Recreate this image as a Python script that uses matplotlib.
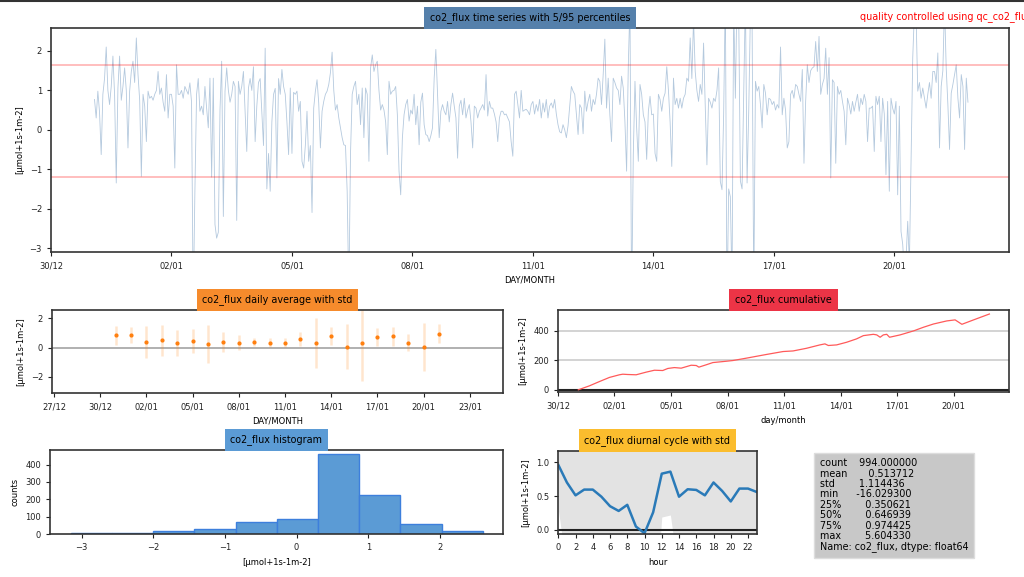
import numpy as np
import pandas as pd
import matplotlib
matplotlib.use("Agg")
import matplotlib.pyplot as plt
from matplotlib.lines import Line2D

UNIT = "[µmol+1s-1m-2]"

# hourly co2 flux, one row per day
# first value is 31/12 02:00, last one 21/01 20:00
flux_start = "2019-12-31 02:00"
flux = [
    0.77, 0.3, 0.98, 0.45, -0.63, 0.9, 1.3, 2.1, 1.0, 0.64, 1.1, 1.87, 0.9, -1.35, 1.06, 1.87, 0.75, 1.1, 1.57, 1.0, -0.46, 0.98,
    1.48, 1.74, 1.2, 2.33, 1.4, 0.75, -1.18, 0.9, 0.6, -0.3, 0.98, 0.8, 0.85, 0.75, 0.9, 1.0, 1.48, 0.9, 1.06, 0.7, 0.47, 1.4, 0.3, 0.9,
    0.9, 0.6, -0.97, 1.65, 0.9, 0.9, 1.0, 0.8, 1.1, 1.0, 0.9, 1.19, 0.7, -4.5, -1.56, 0.9, 1.3, 0.47, 0.6, 0.38, 1.1, 0.55, 0.05, 1.31,
    -1.2, 1.31, -2.4, -2.75, -2.6, 0.5, 1.74, -2.2, 0.98, 1.57, 1.0, 0.7, 0.9, 1.23, 1.1, -2.3, 1.23, 0.9, 1.1, 1.48, 0.47, -0.55, 1.06, 1.3,
    1.0, 1.6, -0.3, 0.6, 1.2, 1.3, 0.47, -0.4, 2.07, -1.5, -0.6, -1.56, 0.2, 0.9, 1.05, -1.22, 1.3, 0.9, 1.53, 1.1, 0.9, 0.2, -0.63, 1.06,
    -0.6, 0.95, 0.9, 0.98, 0.47, 0.72, -0.8, -0.97, -0.4, 0.47, -0.8, -0.4, -2.1, 0.55, 0.98, 1.27, 0.68, -0.46, 0.47, 0.72, 0.9, 0.98, 1.15, 1.45,
    1.97, 1.0, 0.5, 0.64, 0.3, 0.05, -0.2, -0.38, -0.4, -1.56, -4.2, -0.6, 0.9, 1.1, 1.23, 0.64, 0.9, 0.13, 1.06, -0.2, 1.06, 0.9, -0.8, 1.57,
    1.9, 1.48, 1.65, 1.74, 1.0, 0.5, 0.64, 0.5, 0.2, -0.63, 1.23, 0.9, 0.98, 1.0, 1.1, 0.38, -1.05, -1.65, -0.2, 0.38, 0.64, 0.77, 0.22, 0.5,
    0.4, 0.9, 0.13, 0.6, -0.38, 0.7, 0.93, 0.13, -0.12, -0.15, -0.3, -0.15, 0.05, 1.31, 2.04, 0.9, -0.2, 0.47, 0.64, 0.47, 0.38, 0.72, 0.2, 0.64,
    0.93, 0.6, 0.3, -0.72, 0.6, 0.75, 0.38, 0.8, 0.3, 0.5, 0.64, 0.2, -0.46, 0.6, 0.55, 0.3, 0.47, 0.55, 0.64, 0.5, 1.4, 0.35, 0.72, 0.55,
    0.55, 0.4, 0.2, -0.3, 0.3, 0.47, 0.47, 0.38, 0.4, 0.3, 0.2, -0.3, -0.67, 0.9, 0.98, 0.64, 0.3, 1.0, 0.47, 0.5, 0.52, 0.47, 0.38, 0.64,
    0.72, 0.4, 0.64, 0.47, 0.77, 0.3, 0.68, 0.45, 0.77, 0.3, 0.6, 0.68, 0.55, 0.77, 0.4, 0.13, -0.05, -0.08, 0.13, 0.0, -0.2, 0.1, 0.6, 1.1,
    0.98, 0.9, 0.38, -0.12, 0.64, 0.55, -0.1, 0.98, 0.47, 0.72, 0.9, 0.47, 0.77, 0.64, 0.9, 1.31, 1.23, 0.64, 1.4, 2.3, 0.55, 1.31, 0.38, -0.3,
    1.31, 1.2, 1.06, 1.0, 0.64, 1.36, 1.06, 0.2, -1.05, 1.6, 3.2, -4.5, -0.63, 1.23, 0.05, -0.8, 1.15, 0.9, 0.38, 0.2, -0.75, 0.47, 0.85, 0.38,
    0.4, -0.6, -0.8, 0.9, 0.77, 0.47, 0.8, 0.93, 1.6, 1.0, 0.2, -0.93, 1.31, 0.64, 0.8, 0.55, 0.8, 0.55, 0.8, 0.9, 1.31, 1.23, 2.33, 1.3,
    2.8, 1.48, 1.0, 0.72, 1.15, 0.9, 2.2, 0.6, -0.89, 0.8, 0.7, 0.55, 0.8, 0.72, 1.0, 1.57, -1.31, -1.52, 0.4, 3.5, -4.5, -1.5, -1.7, -4.0,
    3.2, 0.8, 3.5, 2.9, -1.3, -1.5, 0.9, 3.4, -1.35, 0.5, 3.0, 2.7, -4.2, 1.23, 0.98, 1.1, 0.64, 0.05, 1.15, 0.93, 0.38, 0.8, 0.77, 0.64,
    0.72, 0.5, 0.64, 0.55, 2.1, 0.38, 0.8, 0.5, -0.46, -0.3, 0.9, 1.0, 0.8, 1.15, 1.1, 0.9, 0.72, 1.53, -0.85, 0.72, 1.65, 1.2, 1.5, 1.57,
    1.6, 2.24, 1.48, 2.37, 0.9, 1.15, 1.3, 2.07, 0.9, 1.83, -1.22, 1.27, 1.2, -0.85, 1.1, 0.9, 1.0, 0.72, 0.47, -0.38, 0.8, 0.64, 0.4, 0.72,
    0.47, 0.7, 0.9, 0.47, 0.8, 0.64, 0.9, 0.72, -0.3, 0.55, 0.55, 0.6, -0.55, 0.85, 0.64, 0.85, -0.3, 0.8, 0.4, -1.14, 0.72, -1.56, 0.8, 0.55,
    0.4, 0.72, -1.65, 0.6, -2.58, -2.9, -3.6, -3.3, -2.32, -3.4, -0.8, 1.82, 3.0, 2.9, 0.98, 1.2, 0.8, 1.06, 0.8, 0.55, 0.9, 1.2, 0.8, 1.48,
    1.48, 1.2, 1.95, -0.46, 1.1, 1.5, 3.2, 1.57, 0.64, -0.5, 0.93, 1.15, 1.4, 1.65, 0.8, 0.3, 1.4, 1.1, -0.5, 1.31, 0.7,
]
p05 = -1.2
p95 = 1.65

# daily averages and standard deviations
daily_start = "2019-12-31"
daily_mean = [0.85, 0.85, 0.4, 0.5, 0.3, 0.45, 0.25, 0.4, 0.35, 0.4, 0.35,
              0.35, 0.6, 0.3, 0.8, 0.07, 0.35, 0.75, 0.8, 0.35, 0.07, 0.97]
daily_std = [0.65, 0.55, 1.1, 1.08, 0.88, 0.82, 1.3, 0.68, 0.5, 0.28, 0.3,
             0.3, 0.45, 1.72, 0.6, 1.55, 2.6, 0.63, 0.65, 0.6, 1.65, 0.65]

# cumulative flux, days since 30/12
cum_days = [1.08, 1.67, 2.2, 2.73, 3.26, 3.44, 3.7, 4.15, 4.68, 5.12, 5.56, 5.83,
            6.18, 6.54, 7.07, 7.34, 7.48, 7.87, 8.22, 8.93, 9.29, 10.0, 11.06,
            11.95, 12.48, 13.19, 13.9, 14.17, 14.35, 14.79, 15.32, 15.85, 16.21,
            16.74, 16.92, 17.1, 17.27, 17.45, 17.6, 18.16, 18.87, 19.4, 19.93,
            20.64, 21.08, 21.44, 22.06, 22.9]
cum_vals = [0, 27, 56, 84, 102, 106, 104, 102, 120, 133, 131, 145,
            151, 147, 167, 165, 154, 170, 185, 194, 199, 215, 240,
            260, 264, 282, 305, 312, 301, 305, 323, 346, 368,
            377, 373, 357, 373, 377, 357, 373, 400, 425, 447,
            468, 475, 445, 475, 515]

# histogram
hist_edges = [-3.15, -2.575, -2.0, -1.425, -0.85, -0.275, 0.3, 0.875, 1.45, 2.025, 2.6]
hist_counts = [8, 8, 21, 31, 71, 88, 460, 225, 58, 21]

# diurnal cycle
hours = list(range(24))
diurnal_mean = [0.96, 0.70, 0.51, 0.595, 0.595, 0.49, 0.35, 0.28, 0.37, 0.05, -0.05, 0.26,
                0.83, 0.86, 0.49, 0.60, 0.59, 0.51, 0.70, 0.575, 0.42, 0.61, 0.61, 0.56]
diurnal_std = [0.66, 1.3, 1.1, 1.2, 1.0, 1.1, 1.3, 1.5, 1.2, 2.1, 2.4, 1.9,
               0.64, 0.64, 1.2, 1.0, 0.61, 1.1, 1.3, 1.2, 1.5, 1.1, 1.0, 1.2]

stat_names = ["count", "mean", "std", "min", "25%", "50%", "75%", "max"]
stat_vals = [994.0, 0.513712, 1.114436, -16.0293, 0.350621, 0.646939, 0.974425, 5.60433]


def style_axes(ax):
    for sp in ax.spines.values():
        sp.set_linewidth(1.2)
        sp.set_color("#333333")
    ax.tick_params(labelsize=6, length=3, width=0.8, colors="#222222")


def box_title(ax, text, color):
    ax.set_title(text, fontsize=6.9, pad=5.5,
                 bbox=dict(facecolor=color, edgecolor="none", boxstyle="square,pad=0.6"))


fig = plt.figure(figsize=(10.24, 5.77), dpi=100)

# time series
t = pd.date_range(flux_start, periods=len(flux), freq="h")
ax1 = fig.add_axes([0.0498, 0.5633, 0.9355, 0.388])
ax1.plot(t, flux, color="#4d7fb0", alpha=0.42, lw=0.6)
ax1.axhline(p95, color="red", alpha=0.3, lw=1.2)
ax1.axhline(p05, color="red", alpha=0.3, lw=1.2)
ax1.set_ylim(-3.1, 2.58)
ax1.set_xlim(pd.Timestamp("2019-12-30 00:00"), pd.Timestamp("2020-01-22 20:30"))
ticks1 = pd.date_range("2019-12-30", periods=8, freq="3D")
ax1.set_xticks(ticks1)
ax1.set_xticklabels(ticks1.strftime("%d/%m"))
ax1.set_yticks([-3, -2, -1, 0, 1, 2])
ax1.set_xlabel("DAY/MONTH", fontsize=6)
ax1.set_ylabel(UNIT, fontsize=6)
style_axes(ax1)
box_title(ax1, "co2_flux time series with 5/95 percentiles", "#5580ab")
# the reference screenshot cuts this note off at the right edge
fig.text(0.84, 0.972, "quality controlled using qc_co2_flux", color="red",
         fontsize=6.9, va="center")

# daily average
d = pd.date_range(daily_start, periods=len(daily_mean), freq="D")
ax2 = fig.add_axes([0.0508, 0.3189, 0.4404, 0.1438])
ax2.axhline(0, color="#aaaaaa", lw=1.3)
ax2.errorbar(d, daily_mean, yerr=daily_std, fmt=".", color="#ff7f0e", ms=4,
             ecolor=(1.0, 0.5, 0.05, 0.2), elinewidth=1.8)
ax2.set_ylim(-3.1, 2.58)
ax2.set_xlim(pd.Timestamp("2019-12-26 21:00"), pd.Timestamp("2020-01-25 03:30"))
ticks2 = pd.date_range("2019-12-27", periods=10, freq="3D")
ax2.set_xticks(ticks2)
ax2.set_xticklabels(ticks2.strftime("%d/%m"))
ax2.set_yticks([-2, 0, 2])
ax2.set_xlabel("DAY/MONTH", fontsize=6)
ax2.set_ylabel(UNIT, fontsize=6)
style_axes(ax2)
box_title(ax2, "co2_flux daily average with std", "#f68b2c")

# cumulative
tc = pd.Timestamp("2019-12-30") + pd.to_timedelta(cum_days, unit="D")
ax3 = fig.add_axes([0.5449, 0.3206, 0.4404, 0.1421])
ax3.yaxis.grid(True, color="#cccccc", lw=1.2)
ax3.set_axisbelow(True)
ax3.axhline(0, color="#222222", lw=1.5)
ax3.plot(tc, cum_vals, color="#ff5a5a", lw=0.9)
ax3.set_ylim(-15, 542)
ax3.set_xlim(pd.Timestamp("2019-12-30 00:00"), pd.Timestamp("2020-01-22 22:30"))
ax3.set_xticks(ticks1)
ax3.set_xticklabels(ticks1.strftime("%d/%m"))
ax3.set_yticks([0, 200, 400])
ax3.set_xlabel("day/month", fontsize=6)
ax3.set_ylabel(UNIT, fontsize=6)
style_axes(ax3)
box_title(ax3, "co2_flux cumulative", "#ec3446")

# histogram
ax4 = fig.add_axes([0.0488, 0.074, 0.4424, 0.146])
ax4.hist(hist_edges[:-1], bins=hist_edges, weights=hist_counts,
         color="#5b9bd5", edgecolor="#3d7fdc", lw=1.0)
ax4.set_xlim(-3.44, 2.88)
ax4.set_xlabel(UNIT, fontsize=6)
ax4.set_ylabel("counts", fontsize=6)
style_axes(ax4)
box_title(ax4, "co2_flux histogram", "#5b9bd5")

# diurnal cycle
dm = np.array(diurnal_mean)
ds = np.array(diurnal_std)
ax5 = fig.add_axes([0.5452, 0.074, 0.1937, 0.145])
ax5.fill_between(hours, dm - ds, dm + ds, color="#e3e3e3", lw=0)
ax5.axhline(0, color="#222222", lw=1.5)
ax5.plot(hours, dm, color="#2a7ab8", lw=1.8)
ax5.set_xlim(0, 23)
ax5.set_ylim(-0.065, 1.17)
ax5.set_xticks(range(0, 24, 2))
ax5.set_yticks([0.0, 0.5, 1.0])
ax5.set_xlabel("hour", fontsize=6)
ax5.set_ylabel(UNIT, fontsize=6)
style_axes(ax5)
box_title(ax5, "co2_flux diurnal cycle with std", "#fbbd2e")

# describe() summary
lines = [f"{n:<5}{v:>14.6f}" for n, v in zip(stat_names, stat_vals)]
lines.append("Name: co2_flux, dtype: float64")
fig.text(0.8005, 0.206, "\n".join(lines), fontsize=6.9, va="top", ha="left",
         linespacing=1.05,
         bbox=dict(facecolor="#c8c8c8", edgecolor="#dddddd", boxstyle="square,pad=0.6"))

fig.add_artist(Line2D([0, 1], [0.999, 0.999], color="#333333", lw=1.5))

fig.savefig("out.png", dpi=100)
